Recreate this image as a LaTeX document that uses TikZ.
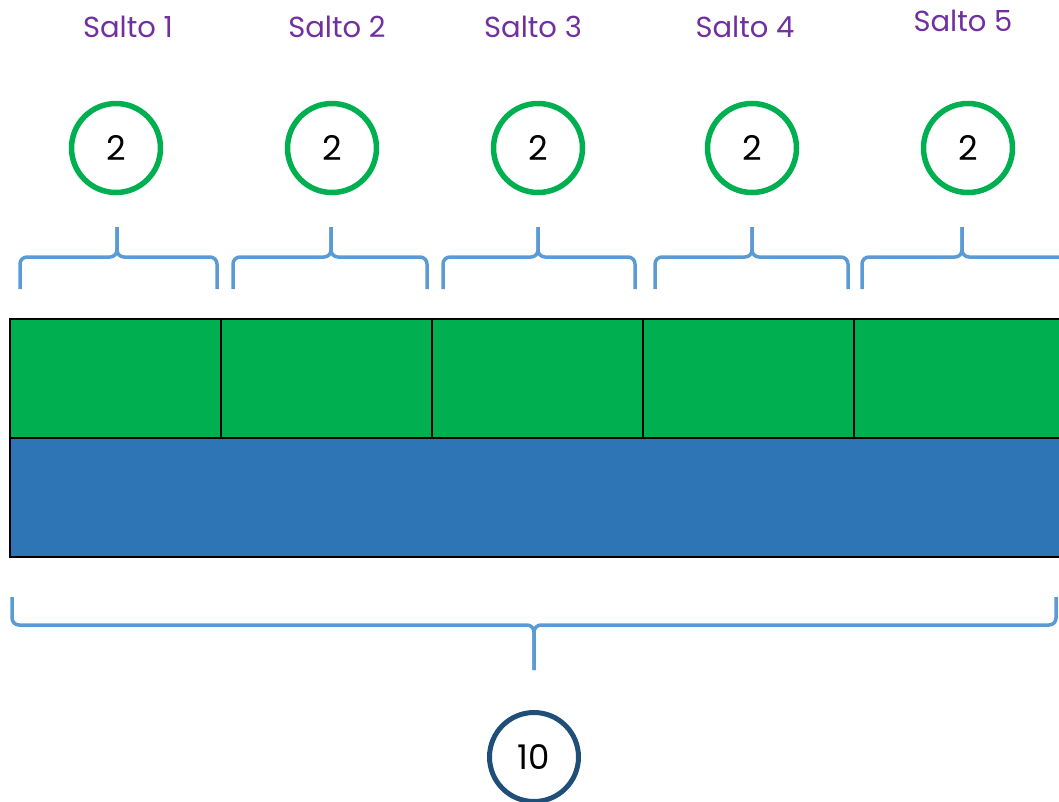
\documentclass[tikz,border=0pt]{standalone}
\usepackage{fontspec}
\setmainfont{Poppins}
\definecolor{morado}{HTML}{7030A0}
\definecolor{verde}{HTML}{00B050}
\definecolor{llave}{HTML}{5B9BD5}
\definecolor{azul}{HTML}{2E75B6}
\definecolor{marino}{HTML}{1F4E79}
\tikzset{
  etiqueta/.style = {text=morado, font=\fontsize{29}{34}\selectfont},
  paso/.style = {circle, draw=verde, line width=5.5pt, minimum size=89pt,
    inner sep=0pt, font=\fontsize{34}{40}\selectfont},
  total/.style = {paso, draw=marino, line width=5pt},
  llave/.style = {draw=llave, line width=3.5pt, rounded corners=7pt},
  celda/.style = {draw=black, line width=2pt, fill=verde,
    minimum width=211pt, minimum height=119pt, inner sep=0pt}
}

\begin{document}
\begin{tikzpicture}[x=1pt,y=-1pt]
  \useasboundingbox (0,0) rectangle (1059,801);
  \clip (0,0) rectangle (1059,801);
  % saltos: etiqueta, circulo y llave de cada uno
  \foreach \i/\lx/\ly/\cx/\bl/\bt/\br in {1/128/27/116/20/117/217,
      2/337/27/332/233/331/427, 3/533/27/538/443/538/635,
      4/745/27/752/655/752/848, 5/963/21/968/862/962/1075} {
    \node[etiqueta] (s\i) at (\lx,\ly) {Salto \i};
    \node[paso] (p\i) at (\cx,148) {2};
    \draw[llave] (\bl,289) |- (\bt,257) -- (\bt,227);
    \draw[llave] (\br,289) |- (\bt,257) -- (\bt,227);
  }
  % barra verde en cinco partes
  \foreach \i in {1,...,5} {
    \node[celda] (k\i) at (10+211*\i-105.5,378.5) {};
  }
  % barra azul entera
  \draw[line width=2pt, fill=azul] (10,438) rectangle (1065,557);
  \draw[llave] (12,597) |- (534,625) -- (534,670);
  \draw[llave] (1056,597) |- (534,625) -- (534,670);
  \node[total] (t) at (534,757) {10};
\end{tikzpicture}
\end{document}
